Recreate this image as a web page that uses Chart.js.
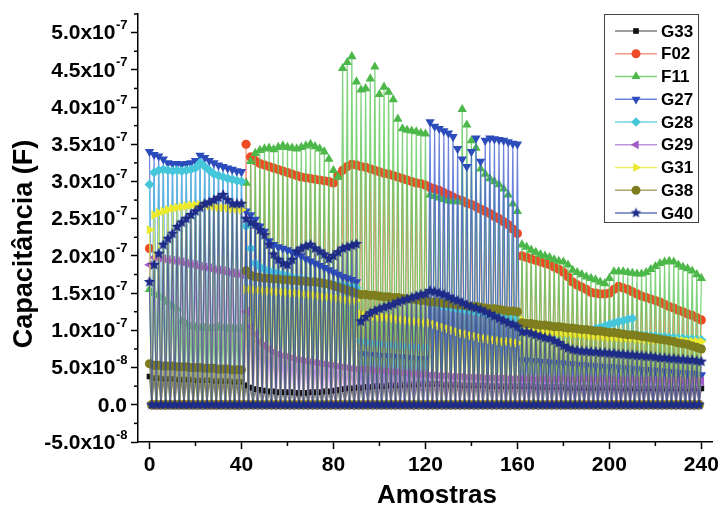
<!DOCTYPE html>
<html><head><meta charset="utf-8">
<script src="https://cdn.jsdelivr.net/npm/chart.js@4.4.1/dist/chart.umd.min.js"></script>
<style>html,body{margin:0;padding:0;background:#fff}#wrap{width:723px;height:510px}</style>
</head><body><div id="wrap"><canvas id="c" width="723" height="510"></canvas></div>
<script>
// values in units of 1e-8 F, one reading every 2 samples (x = 0,2,...,240); a zero reading sits between readings
const UNIT = 1e-8;
const seriesNames = ['G33','F02','F11','G27','G28','G29','G31','G38','G40'];

const G33 = [3.8,3.6,3.6,3.5,3.5,3.5,3.4,3.4,3.4,3.4,3.3,3.3,3.3,3.3,3.2,3.2,3.2,3.2,3.1,3.1,3.1,
  2.6,2.3,2.1,2,1.9,1.8,1.8,1.7,1.7,1.7,1.7,1.6,1.6,1.6,1.7,1.7,1.7,1.8,1.8,1.9,2,2.1,2.2,2.2,2.3,
  2.3,2.4,2.4,2.5,2.5,2.5,2.6,2.6,2.6,2.7,2.7,2.7,2.7,2.8,2.8,
  2.8,2.8,2.8,2.7,2.7,2.7,2.7,2.6,2.6,2.6,2.6,2.6,2.6,2.5,2.5,2.5,2.5,2.5,2.5,2.5,
  2.5,2.5,2.5,2.4,2.4,2.4,2.4,2.4,2.4,2.4,2.3,2.3,2.3,2.3,2.3,2.3,2.3,2.3,2.3,2.3,
  2.3,2.3,2.2,2.2,2.2,2.2,2.2,2.2,2.2,2.2,2.2,2.2,2.2,2.2,2.2,2.2,2.2,2.2,2.2,2.2];
const F02 = [21,0,0,0,0,0,0,0,0,0,0,0,0,0,0,0,0,0,0,0,0,
  35,33.3,32.8,32.4,32.2,32,31.8,31.6,31.4,31.2,31,30.8,30.6,30.5,30.4,30.3,30.2,30.1,30,29.8,30.8,31.5,32,32.3,32.2,
  32,31.9,31.7,31.5,31.3,31.1,31,30.8,30.6,30.4,30.2,30,29.8,29.7,29.5,
  29.2,29,28.8,28.5,28.2,27.9,27.6,27.4,27.1,26.9,26.6,26.3,26,25.7,25.3,25,24.6,24.2,23.6,23,
  20,19.8,19.6,19.4,19.2,19,18.8,18.5,18.2,17.8,17.2,16.5,16.1,15.8,15.5,15.1,15,14.9,14.9,15,
  15.5,15.9,15.7,15.5,15.2,14.9,14.6,14.4,14.2,14,13.8,13.5,13.2,13,12.7,12.5,12.2,12,11.7,11.4];
const F11 = [15.5,15,14.7,14.3,13.8,13.3,12.9,11.2,10.8,10.5,10.4,10.3,10.3,10.2,10.3,10.4,10.3,10.2,10.2,10.1,10.2,
  29.8,32.7,33.8,34.2,34.4,34.5,34.3,34.6,34.8,34.6,34.5,34.4,34.6,34.8,35,34.7,34.4,34,33,31.5,30.6,45.2,46,46.8,43.4,
  42.3,42.5,43.8,45.4,41.7,42.7,42,41,38.4,37.1,36.9,36.8,36.7,36.5,36.4,
  28.2,28,27.8,27.6,27.4,27.3,27.3,39.7,37.6,35.5,34.5,31.7,31,30.4,30,29.6,29,28.2,27,26,
  21.5,21.2,20.8,20.5,20.2,20,19.8,19.5,19.3,19.2,18.8,18.1,17.8,17.5,17.2,17,16.8,16.5,16.3,17,
  17.9,17.9,17.9,17.8,17.7,17.6,17.6,17.8,18.2,18.6,19,19.2,19.3,19.2,18.8,18.5,18.3,18,17.5,17];
const G27 = [34,33.6,33.4,33,32.5,32.4,32.4,32.3,32.4,32.5,32.8,33.5,33.2,32.8,32.5,32.2,32,31.8,31.6,31.4,31.3,
  26,25.5,24.9,24,23.3,22,21.5,21.2,21,20.8,20.5,20.2,20,19.6,19.3,19,18.7,18.4,18.1,17.8,17.5,17.2,17,16.8,16.5,
  6.8,6.8,6.7,6.7,6.6,6.6,6.5,6.5,6.4,6.4,6.3,6.3,6.2,6.2,6.2,
  38,37.4,37.1,36.8,36.5,36,34.4,33,32,34,35.8,32.7,35.5,35.8,35.7,35.6,35.5,35.3,35.1,35,
  6,6,5.9,5.9,5.8,5.8,5.7,5.7,5.6,5.6,5.5,5.5,5.4,5.4,5.3,5.3,5.2,5.2,5.1,5.1,
  5,5,4.9,4.9,4.8,4.8,4.7,4.7,4.6,4.6,4.5,4.5,4.4,4.4,4.3,4.3,4.2,4.2,4.1,4];
const G28 = [29.6,31.2,31.5,31.6,31.5,31.4,31.5,31.4,31.5,31.6,31.8,32.5,32,31.5,31,30.8,30.6,30.4,30.3,30.1,30,
  24,21,19,18.5,18.2,18,17.8,17.6,17.5,17.3,17.1,17,16.9,16.8,16.7,16.6,16.5,16.4,16.3,16.2,16.1,16,15.9,15.8,15.7,
  8.5,8.4,8.3,8.2,8.2,8.1,8,8,7.9,7.9,7.8,7.8,7.8,7.7,7.7,
  13.8,13.6,13.4,13.2,13.1,13,12.9,12.8,12.7,12.6,12.5,12.4,12.3,12.2,12.1,12,11.9,11.8,11.7,11.6,
  9.8,9.7,9.6,9.6,9.5,9.5,9.4,9.4,9.4,9.3,9.3,9.3,9.2,9.2,9.8,10,10.2,10.4,10.6,10.8,
  11,11.2,11.3,11.5,11.6,9.4,9.3,9.3,9.2,9.2,9.1,9.1,9,9,8.9,8.9,8.8,8.8,8.7,8.7];
const G29 = [18.8,19.8,19.7,19.6,19.5,19.4,19.3,19.2,19,18.9,18.8,18.6,18.5,18.4,18.2,18.1,18,17.8,17.7,17.6,17.5,
  12.5,10.5,9.5,8.5,8,7.5,7.1,6.8,6.6,6.5,6.3,6.1,6,5.9,5.8,5.7,5.6,5.5,5.4,5.3,5.2,5.1,5,4.9,4.8,
  4.8,4.7,4.7,4.6,4.6,4.5,4.5,4.4,4.4,4.3,4.3,4.2,4.2,4.1,4.1,
  4,4,3.9,3.9,3.9,3.8,3.8,3.8,3.7,3.7,3.7,3.7,3.6,3.6,3.6,3.6,3.6,3.5,3.5,3.5,
  3.5,3.5,3.5,3.4,3.5,3.5,3.4,3.4,3.5,3.5,3.4,3.4,3.4,3.5,3.5,3.4,3.4,3.4,3.3,3.4,
  3.4,3.3,3.3,3.4,3.4,3.3,3.3,3.3,3.4,3.3,3.3,3.3,3.2,3.3,3.3,3.2,3.2,3.3,3.2,3.2];
const G31 = [23.5,25.5,25.8,26,26.2,26.4,26.5,26.6,26.7,26.8,26.8,26.9,26.8,26.7,26.6,26.5,26.5,26.4,26.3,26.3,26.2,
  15.5,15.5,15.4,15.4,15.3,15.3,15.2,15.2,15.1,15.1,15,15,14.9,14.8,14.8,14.7,14.6,14.5,14.5,14.4,14.3,14.2,14.1,14,14,
  12.2,12.1,12,11.9,11.8,11.8,11.7,11.6,11.5,11.4,11.3,11.2,11.2,11.1,11,
  11,10.8,10.6,10.4,10.2,10,9.8,9.6,9.5,9.3,9.2,9,8.9,8.8,8.7,8.6,8.5,8.5,8.4,8.3,
  11.4,10,9.9,9.8,9.8,9.7,9.7,9.6,9.6,9.5,9.5,9.4,9.4,9.3,9.3,9.2,9.2,9.1,9.1,9,
  9,9,8.9,8.9,8.9,8.8,8.8,8.8,8.7,8.7,8.7,8.7,8.6,8.6,8.6,8.6,8.5,8.5,8.5,8.5];
const G38 = [5.5,5.3,5.3,5.2,5.2,5.2,5.1,5.1,5.1,5,5,5,4.9,4.9,4.9,4.8,4.8,4.8,4.7,4.7,4.7,
  18,17.4,17.2,17.1,17,17,16.9,16.9,16.8,16.8,16.7,16.7,16.6,16.6,16.5,16.5,16.4,16.3,16.2,16,15.8,15.6,15.4,15.2,15,
  14.8,14.8,14.7,14.7,14.6,14.5,14.5,14.4,14.4,14.3,14.2,14.2,14.1,14,14,
  13.8,13.8,13.7,13.6,13.6,13.5,13.4,13.4,13.3,13.2,13.2,13.1,13,12.9,12.9,12.8,12.7,12.6,12.6,12.5,
  11,10.9,10.9,10.8,10.7,10.7,10.6,10.5,10.5,10.4,10.3,10.3,10.2,10.1,10.1,10,9.9,9.9,9.8,9.7,
  9.7,9.6,9.5,9.4,9.4,9.3,9.2,9.1,9,8.9,8.8,8.7,8.6,8.5,8.3,8.2,8.1,7.9,7.7,7.5];
const G40 = [16.5,18.8,20.3,21.5,22.3,23,23.9,24.5,25,25.5,26,26.5,27,27.2,27.5,27.8,28.2,27.5,27,27,27,
  25,24.5,24.2,23.5,22.8,21.5,20.2,19.5,19,18.8,19.5,20.6,21,21.3,21.5,21,20.6,20.2,19.6,20,20.5,21,21.2,21.4,21.6,
  11.2,11.8,12.3,12.6,12.9,13.1,13.3,13.5,13.8,14,14.2,14.4,14.6,14.8,14.9,
  15.3,15.2,15,14.8,14.5,14.2,14,13.7,13.4,13.2,13,12.8,12.5,12.2,11.9,11.6,11.3,11,10.8,10.5,
  9.8,9.8,9.6,9.4,9.2,9,8.9,8.6,8.3,7.9,7.6,7.4,7.3,7.2,7.2,7.1,7.1,7,7,6.9,
  6.9,6.8,6.8,6.7,6.7,6.6,6.6,6.5,6.5,6.4,6.3,6.3,6.2,6.2,6.1,6.1,6,6,5.9,5.8];

const xTickValues = [0,40,80,120,160,200,240];
const xMinorTicks = [20,60,100,140,180,220];
const yTickValues = [-5e-8,0,5e-8,1e-7,1.5e-7,2e-7,2.5e-7,3e-7,3.5e-7,4e-7,4.5e-7,5e-7];
const yTickLabels = ['-5.0x10^-8','0.0','5.0x10^-8','1.0x10^-7','1.5x10^-7','2.0x10^-7','2.5x10^-7','3.0x10^-7','3.5x10^-7','4.0x10^-7','4.5x10^-7','5.0x10^-7'];
const yMinorTicks = [-2.5e-8,2.5e-8,7.5e-8,1.25e-7,1.75e-7,2.25e-7,2.75e-7,3.25e-7,3.75e-7,4.25e-7,4.75e-7,5.25e-7];
const xTitle = 'Amostras';
const yTitle = 'Capacitância (F)';

const markerColors = ['#111111','#f04a25','#4cb84a','#2c4cbc','#45c6da','#a25ac6','#ecea2c','#7e7e1e','#1e2c88'];
const lineColors   = ['rgba(90,90,90,0.8)','rgba(245,120,95,0.75)','rgba(95,200,90,0.8)','rgba(70,100,210,0.8)','rgba(80,200,225,0.8)','rgba(170,110,210,0.75)','rgba(235,235,70,0.8)','rgba(140,140,60,0.75)','rgba(50,70,160,0.75)'];

function makeStar(color, r){
  const c = document.createElement('canvas');
  const s = Math.ceil(r*2)+2; c.width = s; c.height = s;
  const g = c.getContext('2d'); g.fillStyle = color; g.beginPath();
  for (let k=0;k<10;k++){ const rad = k%2 ? r*0.45 : r; const a = -Math.PI/2 + k*Math.PI/5;
    g.lineTo(s/2+rad*Math.cos(a), s/2+rad*Math.sin(a)); }
  g.closePath(); g.fill(); return c;
}
const starImg = makeStar(markerColors[8], 6);
const starLegend = makeStar(markerColors[8], 5.5);

const pointStyles = ['rect','circle','triangle','triangle','rectRot','triangle','triangle','circle',starImg];
const pointRotations = [0,0,0,180,0,270,90,0,0];
const pointRadii = [4,4.6,5.4,5.4,5,5.4,5.4,4.6,6];
const legendRadii = [4,4.5,5.2,5.2,4.8,5.2,5.2,4.5,5.5];

const allValues = [G33,F02,F11,G27,G28,G29,G31,G38,G40];

function toPoints(vals){
  const pts = [];
  vals.forEach((v,i)=>{
    pts.push({x:i*2, y:v*UNIT});
    if (i < vals.length-1) pts.push({x:i*2+1, y:0});
  });
  return pts;
}

const datasets = seriesNames.map((name,i)=>({
  label: name,
  data: toPoints(allValues[i]),
  borderColor: lineColors[i],
  borderWidth: 1.2,
  backgroundColor: markerColors[i],
  pointBackgroundColor: markerColors[i],
  pointBorderColor: markerColors[i],
  pointBorderWidth: 0,
  pointStyle: pointStyles[i],
  pointRotation: pointRotations[i],
  pointRadius: pointRadii[i],
  tension: 0,
  order: seriesNames.length - 1 - i
}));

const FONT = '"Liberation Sans", Arial, sans-serif';

function drawSupLabel(ctx, text, xRight, yMid){
  const parts = text.split('^');
  const base = parts[0], sup = parts[1] || '';
  ctx.font = 'bold 21px ' + FONT;
  const wb = ctx.measureText(base).width;
  ctx.font = 'bold 13px ' + FONT;
  const ws = sup ? ctx.measureText(sup).width : 0;
  const x0 = xRight - wb - ws;
  ctx.textAlign = 'left'; ctx.textBaseline = 'middle'; ctx.fillStyle = '#000';
  ctx.font = 'bold 21px ' + FONT;
  ctx.fillText(base, x0, yMid+1);
  if (sup){ ctx.font = 'bold 13px ' + FONT; ctx.fillText(sup, x0+wb+0.5, yMid-7); }
}

const decor = {
  id: 'decor',
  afterDraw(chart){
    const ctx = chart.ctx, xs = chart.scales.x, ys = chart.scales.y;
    const ca = chart.chartArea;
    ctx.save();
    ctx.strokeStyle = '#000'; ctx.lineWidth = 1.5;
    yMinorTicks.forEach(v=>{ const y = ys.getPixelForValue(v); ctx.beginPath(); ctx.moveTo(ca.left-4, y); ctx.lineTo(ca.left, y); ctx.stroke(); });
    xMinorTicks.forEach(v=>{ const x = xs.getPixelForValue(v); ctx.beginPath(); ctx.moveTo(x, ca.bottom); ctx.lineTo(x, ca.bottom+4); ctx.stroke(); });
    yTickValues.forEach((v,i)=> drawSupLabel(ctx, yTickLabels[i], 127, ys.getPixelForValue(v)));
    ctx.fillStyle = '#000'; ctx.font = 'bold 26px ' + FONT; ctx.textAlign = 'center'; ctx.textBaseline = 'middle';
    ctx.fillText(xTitle, 437, 496);
    ctx.font = 'bold 27px ' + FONT;
    ctx.save(); ctx.translate(25, 244); ctx.rotate(-Math.PI/2); ctx.fillText(yTitle, 0, 0); ctx.restore();
    const bx = 604.5, by = 14.5, bw = 94, bh = 208;
    ctx.fillStyle = '#fff'; ctx.fillRect(bx, by, bw, bh);
    ctx.strokeStyle = '#444'; ctx.lineWidth = 1; ctx.strokeRect(bx, by, bw, bh);
    seriesNames.forEach((name,i)=>{
      const y = 31 + i*22.75;
      ctx.strokeStyle = lineColors[i]; ctx.lineWidth = 1.5;
      ctx.beginPath(); ctx.moveTo(615, y); ctx.lineTo(657, y); ctx.stroke();
      ctx.fillStyle = markerColors[i];
      if (i === 8) ctx.drawImage(starLegend, 636 - starLegend.width/2, y - starLegend.height/2);
      else Chart.helpers.drawPoint(ctx, {pointStyle: pointStyles[i], rotation: pointRotations[i], radius: legendRadii[i], borderWidth: 0}, 636, y);
      ctx.fillStyle = '#000'; ctx.font = 'bold 17px ' + FONT; ctx.textAlign = 'left'; ctx.textBaseline = 'middle';
      ctx.fillText(name, 661, y+1);
    });
    ctx.restore();
  }
};

new Chart(document.getElementById('c'), {
  type: 'line',
  data: { datasets },
  options: {
    responsive: false, animation: false, devicePixelRatio: 1,
    layout: { padding: { top: 14, right: 6, left: 0, bottom: 0 } },
    plugins: { legend: { display: false }, tooltip: { enabled: false } },
    scales: {
      x: {
        type: 'linear', min: -5, max: 245,
        afterBuildTicks: (s)=>{ s.ticks = xTickValues.map(v=>({value:v})); },
        afterFit: (s)=>{ s.height = 68; },
        grid: { drawOnChartArea: false, drawTicks: true, tickLength: 7, tickWidth: 1.5, tickColor: '#000' },
        border: { display: true, color: '#000', width: 1.5 },
        ticks: { color: '#000', font: { family: FONT, size: 21, weight: 'bold' }, padding: 4, maxRotation: 0 }
      },
      y: {
        type: 'linear', min: -5e-8, max: 5.25e-7,
        afterBuildTicks: (s)=>{ s.ticks = yTickValues.map(v=>({value:v})); },
        afterFit: (s)=>{ s.width = 138; },
        grid: { drawOnChartArea: false, drawTicks: true, tickLength: 7, tickWidth: 1.5, tickColor: '#000' },
        border: { display: true, color: '#000', width: 1.5 },
        ticks: { display: false }
      }
    }
  },
  plugins: [decor]
});
</script>
</body></html>
